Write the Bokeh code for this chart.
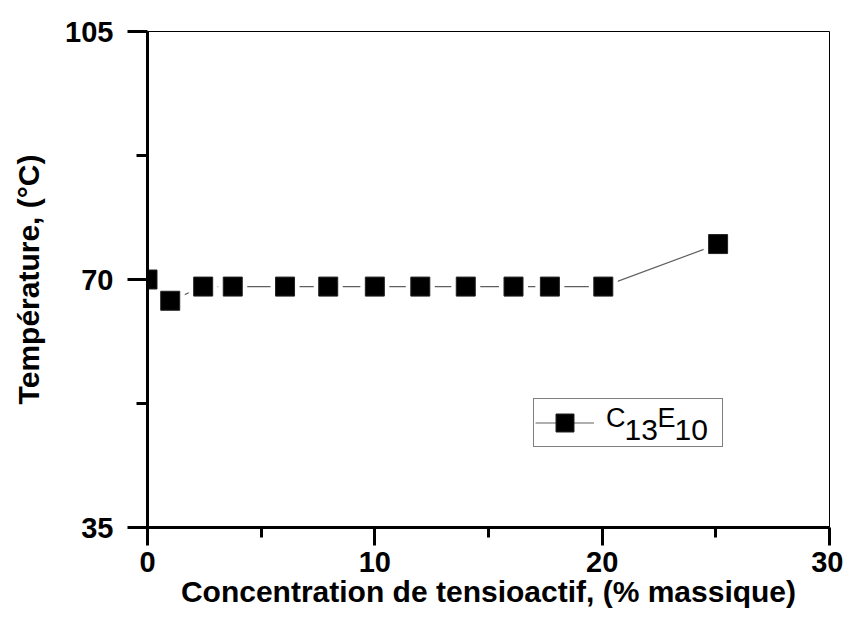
from bokeh.plotting import figure
from bokeh.models import FixedTicker, Range1d, Legend, LegendItem, Label
from bokeh.embed import file_html
from bokeh.resources import INLINE

# data
concentration = [0, 1, 2.45, 3.75, 6.05, 7.95, 10, 12, 14, 16.1, 17.7, 20.05, 25.1]
temperature = [70, 67, 69, 69, 69, 69, 69, 69, 69, 69, 69, 69, 75]
label_parts = ["C", "13", "E", "10"]
x_ticks = [0, 10, 20, 30]
x_minor = [5, 15, 25]
y_ticks = [35, 70, 105]
y_minor = [52.5, 87.5]

FONT = "'Liberation Sans', Arial, Helvetica, sans-serif"

p = figure(width=843, height=619, output_backend="svg", toolbar_location=None,
           x_range=Range1d(0, 30), y_range=Range1d(35, 105),
           min_border_left=147, min_border_right=14, min_border_top=31, min_border_bottom=92)
p.background_fill_color = "white"
p.border_fill_color = "white"
p.outline_line_color = "black"
p.outline_line_width = 1
p.grid.visible = False

for ax, ticks, minor in ((p.xaxis[0], x_ticks, x_minor), (p.yaxis[0], y_ticks, y_minor)):
    ax.ticker = FixedTicker(ticks=ticks, minor_ticks=minor)
    ax.axis_line_width = 3
    ax.major_tick_line_width = 3
    ax.minor_tick_line_width = 3
    ax.major_tick_in = 0
    ax.minor_tick_in = 0
    ax.major_label_text_font = FONT
    ax.major_label_text_font_style = "bold"
    ax.major_label_text_font_size = "29px"
    ax.major_label_text_color = "black"
    ax.axis_label_text_font = FONT
    ax.axis_label_text_font_style = "bold"
    ax.axis_label_text_font_size = "30px"
    ax.axis_label_text_color = "black"

p.xaxis.major_tick_out = 18
p.xaxis.minor_tick_out = 10
p.yaxis.major_tick_out = 20
p.yaxis.minor_tick_out = 11
p.xaxis.major_label_standoff = 6
p.yaxis.major_label_standoff = 14
p.xaxis.axis_label = "Concentration de tensioactif, (% massique)"
p.yaxis.axis_label = "Température, (°C)"
p.xaxis.axis_label_standoff = 0
p.yaxis.axis_label_standoff = 17

ln = p.line(concentration, temperature, line_color="#606060", line_width=1.2)
p.scatter(concentration, temperature, marker="square", size=29, fill_color="white", line_color=None)
sq = p.scatter(concentration, temperature, marker="square", size=19, fill_color="black",
               line_color="#222222", line_width=1)

legend = Legend(items=[LegendItem(label=" ", renderers=[ln, sq])],
                location=(386, 80), glyph_width=59, glyph_height=45,
                label_standoff=14, label_width=113, label_height=45,
                padding=1, margin=0, spacing=0,
                label_text_font_size="24px", label_text_color="black",
                border_line_color="black", border_line_width=1,
                background_fill_color="white", background_fill_alpha=0)
p.add_layout(legend, "center")

# legend text with real subscripts (screen units relative to the frame)
part_x = [458.5, 477, 510, 527]
part_y = [110, 97.5, 110, 97.5]
part_size = ["27px", "30px", "27px", "30px"]
for txt, lx, ly, fs in zip(label_parts, part_x, part_y, part_size):
    p.add_layout(Label(x=lx, y=ly, x_units="screen", y_units="screen", text=txt,
                       text_font=FONT, text_font_size=fs, text_color="black",
                       text_baseline="middle", text_align="left", level="overlay"), "center")

open("out.html", "w").write(file_html(p, INLINE))
